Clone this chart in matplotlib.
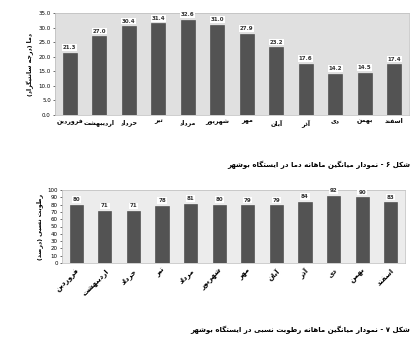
import numpy as np
import matplotlib
matplotlib.use("Agg")
import matplotlib.pyplot as plt

plt.rcParams.update({"font.family": ["DejaVu Sans"], "font.size": 5})

# ---------------- data ----------------
months = ["فروردین", "اردیبهشت", "خرداد", "تیر", "مرداد", "شهریور",
          "مهر", "آبان", "آذر", "دی", "بهمن", "اسفند"]
temp = [21.3, 27.0, 30.4, 31.4, 32.6, 31.0, 27.9, 23.2, 17.6, 14.2, 14.5, 17.4]
humid = [80, 71, 71, 78, 81, 80, 79, 79, 84, 92, 90, 83]
temp_ticks = [0, 5, 10, 15, 20, 25, 30, 35]
humid_ticks = [0, 10, 20, 30, 40, 50, 60, 70, 80, 90, 100]
ylab_top = "دما (درجه سانتیگراد)"
ylab_bot = "رطوبت نسبی (درصد)"
cap_top = "شکل ۶ - نمودار میانگین ماهانه دما در ایستگاه بوشهر"
cap_bot = "شکل ۷ - نمودار میانگین ماهانه رطوبت نسبی در ایستگاه بوشهر"

# ---------------- minimal Persian shaping (no bidi lib available) ----------------
# letter: (isolated, final, initial, medial); None for initial -> right-joining only
FORMS = {
    "ا": (0xFE8D, 0xFE8E, None, None), "آ": (0xFE81, 0xFE82, None, None),
    "ب": (0xFE8F, 0xFE90, 0xFE91, 0xFE92), "پ": (0xFB56, 0xFB57, 0xFB58, 0xFB59),
    "ت": (0xFE95, 0xFE96, 0xFE97, 0xFE98), "ث": (0xFE99, 0xFE9A, 0xFE9B, 0xFE9C),
    "ج": (0xFE9D, 0xFE9E, 0xFE9F, 0xFEA0), "چ": (0xFB7A, 0xFB7B, 0xFB7C, 0xFB7D),
    "ح": (0xFEA1, 0xFEA2, 0xFEA3, 0xFEA4), "خ": (0xFEA5, 0xFEA6, 0xFEA7, 0xFEA8),
    "د": (0xFEA9, 0xFEAA, None, None), "ذ": (0xFEAB, 0xFEAC, None, None),
    "ر": (0xFEAD, 0xFEAE, None, None), "ز": (0xFEAF, 0xFEB0, None, None),
    "ژ": (0xFB8A, 0xFB8B, None, None),
    "س": (0xFEB1, 0xFEB2, 0xFEB3, 0xFEB4), "ش": (0xFEB5, 0xFEB6, 0xFEB7, 0xFEB8),
    "ص": (0xFEB9, 0xFEBA, 0xFEBB, 0xFEBC), "ض": (0xFEBD, 0xFEBE, 0xFEBF, 0xFEC0),
    "ط": (0xFEC1, 0xFEC2, 0xFEC3, 0xFEC4), "ظ": (0xFEC5, 0xFEC6, 0xFEC7, 0xFEC8),
    "ع": (0xFEC9, 0xFECA, 0xFECB, 0xFECC), "غ": (0xFECD, 0xFECE, 0xFECF, 0xFED0),
    "ف": (0xFED1, 0xFED2, 0xFED3, 0xFED4), "ق": (0xFED5, 0xFED6, 0xFED7, 0xFED8),
    "ک": (0xFB8E, 0xFB8F, 0xFB90, 0xFB91), "گ": (0xFB92, 0xFB93, 0xFB94, 0xFB95),
    "ل": (0xFEDD, 0xFEDE, 0xFEDF, 0xFEE0), "م": (0xFEE1, 0xFEE2, 0xFEE3, 0xFEE4),
    "ن": (0xFEE5, 0xFEE6, 0xFEE7, 0xFEE8), "ه": (0xFEE9, 0xFEEA, 0xFEEB, 0xFEEC),
    "و": (0xFEED, 0xFEEE, None, None), "ی": (0xFBFC, 0xFBFD, 0xFBFE, 0xFBFF),
}
MIRROR = {"(": ")", ")": "("}


def fa(s):
    out = []
    n = len(s)
    for i, ch in enumerate(s):
        if ch not in FORMS:
            out.append(MIRROR.get(ch, ch))
            continue
        iso, fin, ini, med = FORMS[ch]
        prev = s[i - 1] if i > 0 else ""
        nxt = s[i + 1] if i + 1 < n else ""
        jp = prev in FORMS and FORMS[prev][2] is not None
        jn = ini is not None and nxt in FORMS
        if jp and jn:
            c = med
        elif jp:
            c = fin
        elif jn:
            c = ini
        else:
            c = iso
        out.append(chr(c))
    return "".join(reversed(out))


BAR = "#535353"


def panel(ax, vals, ticks, fmt, ylab, rot, face):
    x = np.arange(len(vals))
    ax.set_facecolor(face)
    bars = ax.bar(x, vals, 0.46, color=BAR, edgecolor="#404040", linewidth=0.4)
    for b, v in zip(bars, vals):
        ax.annotate(fmt.format(v), (b.get_x() + b.get_width() / 2, v), xytext=(0, 2),
                    textcoords="offset points", ha="center", va="bottom", fontsize=4,
                    fontweight="bold", color="#333333",
                    bbox=dict(boxstyle="square,pad=0.15", fc="white", ec="none"))
    ax.set_xlim(-0.5, len(vals) - 0.5)
    ax.set_ylim(ticks[0], ticks[-1])
    ax.set_yticks(ticks)
    ax.tick_params(axis="y", labelsize=4, length=1.5, width=0.4, pad=1.5)
    ax.tick_params(axis="x", length=0, pad=3)
    ax.set_xticks(x)
    if rot:
        ax.set_xticklabels([fa(m) for m in months], rotation=45, ha="right",
                           rotation_mode="anchor", fontsize=5, fontweight="bold")
    else:
        ax.set_xticklabels([fa(m) for m in months], fontsize=4.5, fontweight="bold")
    ax.set_ylabel(fa(ylab), fontsize=4.5, fontweight="bold", labelpad=3)
    for sp in ax.spines.values():
        sp.set_color("#bbbbbb"); sp.set_linewidth(0.5)


fig = plt.figure(figsize=(4.14, 3.40), dpi=100)
W, H = 414, 340
ax1 = fig.add_axes([55 / W, 1 - 115 / H, 354 / W, 102 / H])
panel(ax1, temp, temp_ticks, "{:.1f}", ylab_top, False, "#e0e0e0")
ax1.yaxis.set_major_formatter(matplotlib.ticker.StrMethodFormatter("{x:.1f}"))

ax2 = fig.add_axes([62 / W, 1 - 263 / H, 343 / W, 73 / H])
panel(ax2, humid, humid_ticks, "{:.0f}", ylab_bot, True, "#ececec")

fig.text(410 / W, 1 - 165 / H, fa(cap_top), ha="right", va="center", fontsize=5,
         fontweight="bold")
fig.text(410 / W, 1 - 330 / H, fa(cap_bot), ha="right", va="center", fontsize=5,
         fontweight="bold")

fig.savefig("out.png", dpi=100)
